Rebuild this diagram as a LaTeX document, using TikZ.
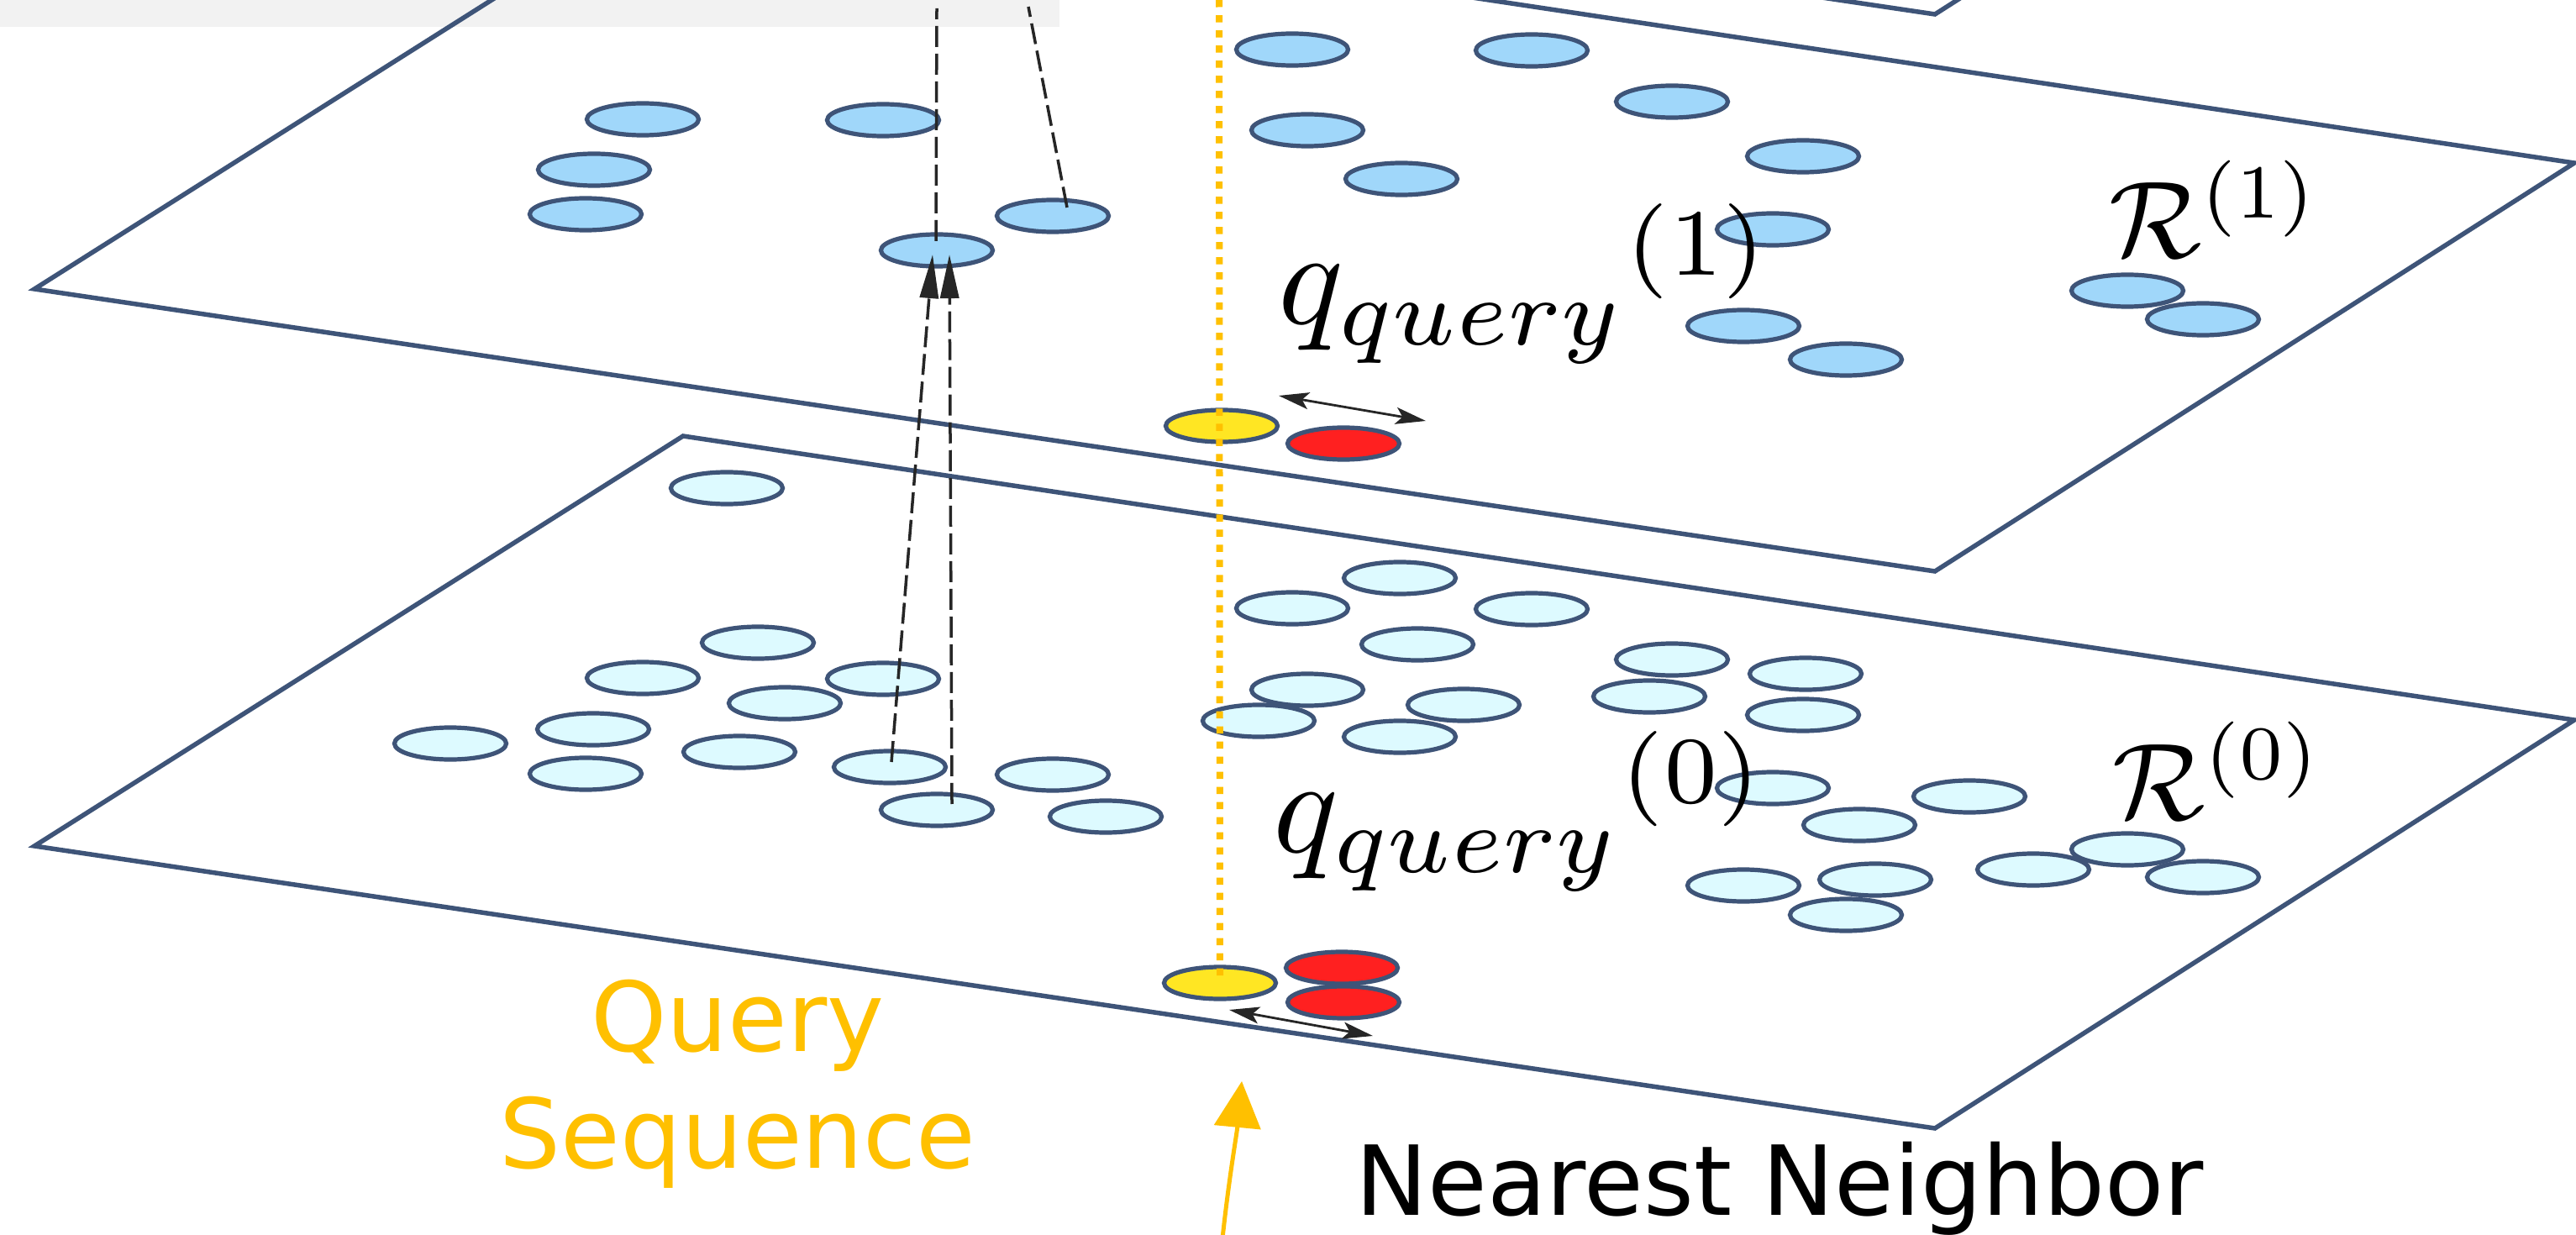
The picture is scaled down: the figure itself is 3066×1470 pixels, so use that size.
\documentclass[tikz,border=0pt]{standalone}
\usepackage{fontspec}
\newfontfamily\lblfont{DejaVu Sans}
\usetikzlibrary{shapes.geometric,arrows.meta,calc}
\definecolor{planeline}{RGB}{62,84,120}
\definecolor{ptblue}{RGB}{160,215,250}
\definecolor{ptcyan}{RGB}{221,250,255}
\definecolor{qyellow}{RGB}{255,230,35}
\definecolor{nnred}{RGB}{255,32,32}
\definecolor{qorange}{RGB}{255,192,0}
\definecolor{boxgray}{RGB}{242,242,242}
\definecolor{darkline}{RGB}{38,38,38}
\begin{document}
\begin{tikzpicture}[x=0.01cm,y=-0.01cm,
  plane/.style={draw=planeline,line width=0.055cm,line join=miter},
  pt/.style={ellipse,draw=planeline,line width=0.052cm,minimum width=1.33cm,minimum height=0.38cm,inner sep=0pt},
  ptup/.style={pt,fill=ptblue},
  ptlow/.style={pt,fill=ptcyan},
  ptq/.style={pt,fill=qyellow},
  ptnn/.style={pt,fill=nnred},
  hop/.style={draw=darkline,line width=0.035cm,dash pattern=on 0.25cm off 0.08cm},
  hoparrow/.style={hop,-{Triangle[length=0.52cm,width=0.22cm]}},
  dist/.style={draw=darkline,line width=0.028cm,{Stealth[length=0.36cm,width=0.2cm,inset=0.08cm]}-{Stealth[length=0.36cm,width=0.2cm,inset=0.08cm]}},
  qline/.style={draw=qorange,line width=0.08cm,dash pattern=on 0.085cm off 0.095cm},
  qarrow/.style={draw=qorange,line width=0.05cm,-{Triangle[length=0.55cm,width=0.55cm]}},
  mathlbl/.style={anchor=base west,inner sep=0pt,font=\fontsize{10}{12}\selectfont,transform shape},
  txt/.style={inner sep=0pt,font=\lblfont\fontsize{32.7}{39.3}\selectfont}
]
\useasboundingbox (0,0) rectangle (3066,1470);
\clip (0,0) rectangle (3066,1470);

% gray box
\fill[boxgray] (0,0) rectangle (1261,32);

% planes
\draw[plane] (41,-319) -- (813,-807) -- (3064,-469) -- (2303,17) -- cycle;
\draw[plane] (41,344) -- (813,-144) -- (3064,194) -- (2303,680) -- cycle;
\draw[plane] (41,1007) -- (813,519) -- (3064,857) -- (2303,1343) -- cycle;

% R(1) points
\node[ptup] (a1) at (765,142) {};
\node[ptup] (a2) at (1051,143) {};
\node[ptup] (a3) at (707,202) {};
\node[ptup] (a4) at (697,255) {};
\node[ptup] (a5) at (1253,257) {};
\node[ptup] (a6) at (1115,298) {};
\node[ptup] (a7) at (1538,59) {};
\node[ptup] (a8) at (1823,60) {};
\node[ptup] (a9) at (1990,121) {};
\node[ptup] (a10) at (1556,155) {};
\node[ptup] (a11) at (1668,213) {};
\node[ptup] (a12) at (2146,186) {};
\node[ptup] (a13) at (2110,273) {};
\node[ptup] (a14) at (2075,388) {};
\node[ptup] (a15) at (2197,428) {};
\node[ptup] (a16) at (2532,346) {};
\node[ptup] (a17) at (2622,380) {};

% R(0) points
\node[ptlow] (b1) at (865,581) {};
\node[ptlow] (b2) at (902,765) {};
\node[ptlow] (b3) at (765,807) {};
\node[ptlow] (b4) at (1051,808) {};
\node[ptlow] (b5) at (934,837) {};
\node[ptlow] (b6) at (706,868) {};
\node[ptlow] (b7) at (536,885) {};
\node[ptlow] (b8) at (880,895) {};
\node[ptlow] (b9) at (697,921) {};
\node[ptlow] (b10) at (1059,913) {};
\node[ptlow] (b11) at (1253,922) {};
\node[ptlow] (b12) at (1115,964) {};
\node[ptlow] (b13) at (1316,972) {};
\node[ptlow] (b14) at (1666,688) {};
\node[ptlow] (b15) at (1538,724) {};
\node[ptlow] (b16) at (1823,725) {};
\node[ptlow] (b17) at (1687,767) {};
\node[ptlow] (b18) at (1990,785) {};
\node[ptlow] (b19) at (2149,802) {};
\node[ptlow] (b20) at (1963,829) {};
\node[ptlow] (b21) at (2146,851) {};
\node[ptlow] (b22) at (1556,821) {};
\node[ptlow] (b23) at (1742,839) {};
\node[ptlow] (b24) at (1498,858) {};
\node[ptlow] (b25) at (1666,877) {};
\node[ptlow] (b26) at (2110,938) {};
\node[ptlow] (b27) at (2344,948) {};
\node[ptlow] (b28) at (2213,982) {};
\node[ptlow] (b29) at (2532,1011) {};
\node[ptlow] (b30) at (2420,1035) {};
\node[ptlow] (b31) at (2622,1044) {};
\node[ptlow] (b32) at (2075,1054) {};
\node[ptlow] (b33) at (2232,1047) {};
\node[ptlow] (b34) at (2197,1089) {};

% query and nearest neighbours
\node[ptq] (y1) at (1454,507) {};
\node[ptnn] (r1) at (1599,528) {};
\node[ptq] (y0) at (1452,1170) {};
\node[ptnn] (r0a) at (1597,1152) {};
\node[ptnn] (r0b) at (1599,1193) {};

% hops between layers
\coordinate (upA) at (1115,10);
\coordinate (upB) at (1224,8);
\draw[hop] ([xshift=-0.01cm,yshift=0.11cm]a6.center) -- (upA);
\draw[hop] ([xshift=0.17cm,yshift=0.1cm]a5.center) -- (upB);
\draw[hoparrow] ([xshift=0.02cm,yshift=0.06cm]b10.center) -- ([xshift=-0.05cm,yshift=-0.05cm]a6.center);
\draw[hoparrow] ([xshift=0.18cm,yshift=0.07cm]b12.center) -- ([xshift=0.15cm,yshift=-0.05cm]a6.center);

% query sequence line
\coordinate (qtop) at (1451,0);
\draw[qline] (qtop) -- (y0.center);

% distance arrows
\coordinate (d1s) at (1522,471);
\coordinate (d1e) at (1697,501);
\draw[dist] (d1s) -- (d1e);
\coordinate (d0s) at (1463,1202);
\coordinate (d0e) at (1634,1233);
\draw[dist] (d0s) -- (d0e);

% orange arrow
\coordinate (qa0) at (1455,1474);
\coordinate (qa1) at (1478,1287);
\draw[qarrow] (qa0) .. controls (1463,1400) and (1472,1350) .. (qa1);

% labels
\node[mathlbl,scale=4.6] (ql1) at (1518,386) {${q_{query}}^{(1)}$};
\node[mathlbl,scale=4.6] (ql0) at (1512,1014) {${q_{query}}^{(0)}$};
\node[mathlbl,scale=3.7] (rl1) at (2508,307) {$\mathcal{R}^{(1)}$};
\node[mathlbl,scale=3.7] (rl0) at (2512,975) {$\mathcal{R}^{(0)}$};

\node[txt,anchor=base,align=center,text=qorange] (qseq) at (878,1390) {Query\\Sequence};
\node[txt,anchor=base west] (nn) at (1613,1446) {Nearest Neighbor};
\end{tikzpicture}
\end{document}
